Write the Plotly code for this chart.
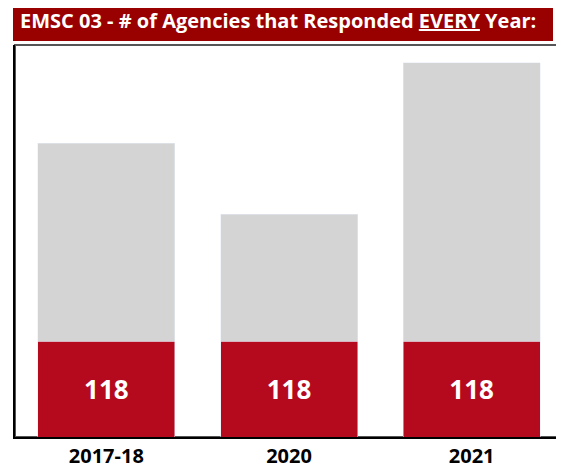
import plotly.graph_objects as go

categories = ["2017-18", "2020", "2021"]
responded_every_year = [118, 118, 118]
remaining = [243, 156, 342]
labels = ["118", "118", "118"]

W, H = 564, 469
OFF = 8  # page body margin
L, R, T, B = 15 - OFF, 9, 45 - OFF, 40
pw, ph = W - L - R, H - T - B

fig = go.Figure()
fig.add_trace(go.Bar(
    x=categories, y=responded_every_year, marker_color="#b50a1e",
    text=labels, textposition="inside", insidetextanchor="middle",
    textfont=dict(color="white", size=26, family="Open Sans", weight="bold"),
    hoverinfo="skip",
))
fig.add_trace(go.Bar(
    x=categories, y=remaining, marker_color="#d4d4d4", hoverinfo="skip",
))

fig.update_layout(
    width=W, height=H, barmode="stack", bargap=0.25, showlegend=False,
    margin=dict(l=L, r=R, t=T, b=B, pad=0),
    plot_bgcolor="white", paper_bgcolor="white",
    font=dict(family="Open Sans", color="black"),
    xaxis=dict(showline=True, linecolor="black", linewidth=2, ticks="",
               tickfont=dict(size=20, family="Open Sans", color="black", weight="bold")),
    yaxis=dict(range=[0, 482], showticklabels=False, showgrid=False, zeroline=False,
               showline=True, linecolor="black", linewidth=2, fixedrange=True),
    shapes=[
        dict(type="rect", xref="paper", yref="paper", x0=0, x1=1, y0=0, y1=1,
             line=dict(color="#555555", width=2), layer="below"),
        dict(type="rect", xref="paper", yref="paper",
             x0=(13 - OFF - L) / pw, x1=(553 - OFF - L) / pw,
             y0=(H - B - (41 - OFF)) / ph, y1=(H - B + OFF) / ph,
             fillcolor="#990000", line=dict(width=0)),
    ],
    annotations=[
        dict(xref="paper", yref="paper", x=(18 - OFF - L) / pw, y=(H - B - (20 - OFF)) / ph,
             xanchor="left", yanchor="middle", showarrow=False,
             text="<b>EMSC 03 - # of Agencies that Responded <u>EVERY</u> Year:</b>",
             font=dict(color="white", size=20, family="Open Sans")),
    ],
)
fig.write_html("out.html")
